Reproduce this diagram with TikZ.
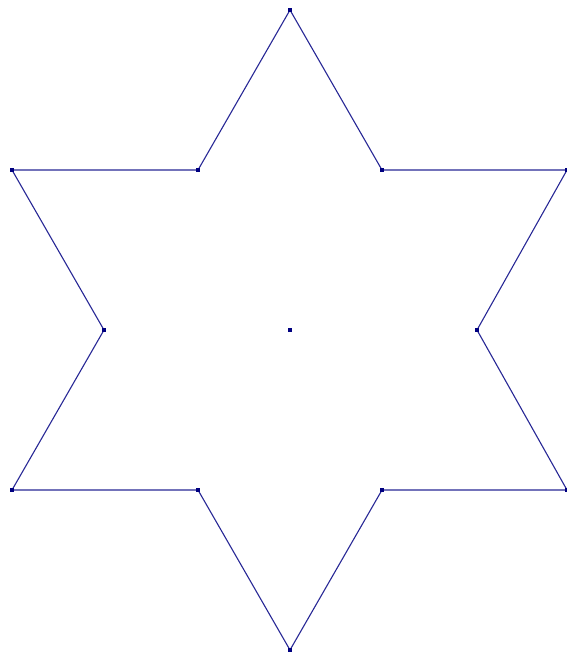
\documentclass[tikz,border=0pt]{standalone}
\definecolor{starline}{RGB}{40,40,150}
\definecolor{stardot}{RGB}{0,0,128}
\begin{document}
\begin{tikzpicture}[x=1pt,y=-1pt,
  pt/.style={fill=stardot,inner sep=0pt,minimum size=4.5pt,draw=none,rectangle},
  edge/.style={draw=starline,line width=1.1pt,line join=miter}]
\useasboundingbox (0,0) rectangle (566,654);
\fill[white] (0,0) rectangle (566,654);
\node[pt] (o1) at (290,10) {};
\node[pt] (i1) at (382,170) {};
\node[pt] (o2) at (567,170) {};
\node[pt] (i2) at (477,330) {};
\node[pt] (o3) at (567,490) {};
\node[pt] (i3) at (382,490) {};
\node[pt] (o4) at (290,650) {};
\node[pt] (i4) at (198,490) {};
\node[pt] (o5) at (12,490) {};
\node[pt] (i5) at (104,330) {};
\node[pt] (o6) at (12,170) {};
\node[pt] (i6) at (198,170) {};
\node[pt] (c) at (290,330) {};
\draw[edge] (o1.center) -- (i1.center) -- (o2.center) -- (i2.center) -- (o3.center) -- (i3.center) -- (o4.center) -- (i4.center) -- (o5.center) -- (i5.center) -- (o6.center) -- (i6.center) -- cycle;
\foreach \n in {o1,i1,o2,i2,o3,i3,o4,i4,o5,i5,o6,i6}
  \node[pt] at (\n) {};
\end{tikzpicture}
\end{document}
